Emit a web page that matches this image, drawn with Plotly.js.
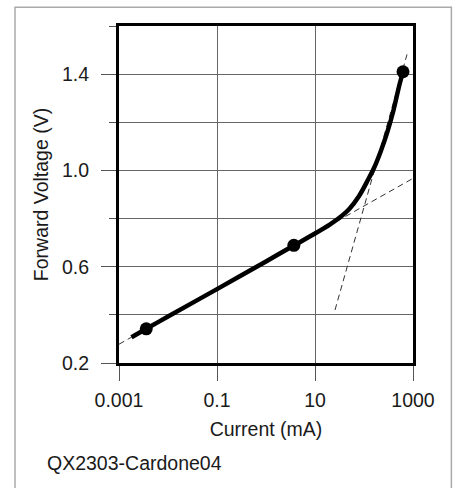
<!DOCTYPE html>
<html>
<head>
<meta charset="utf-8">
<script src="https://cdn.plot.ly/plotly-3.0.1.min.js"></script>
<style>html,body{margin:0;padding:0;background:#fff;}#chart{width:456px;height:488px;}</style>
</head>
<body>
<div id="chart"></div>
<script>
// Measured curve (current in mA, forward voltage in V)
var curveCurrent = [0.0018, 0.0036, 0.01, 0.1, 1, 3.7, 10, 20, 30, 50, 80, 120, 160, 220, 300, 400, 520, 625];
var curveVoltage = [0.307, 0.342, 0.393, 0.507, 0.622, 0.688, 0.738, 0.775, 0.80, 0.84, 0.895, 0.96, 1.01, 1.08, 1.16, 1.25, 1.35, 1.41];
// Marked data points
var pointCurrent = [0.0036, 3.7, 625];
var pointVoltage = [0.342, 0.689, 1.41];
// Low-current asymptote (dashed)
var lowAsymCurrent = [0.001, 1000];
var lowAsymVoltage = [0.278, 0.967];
// High-current asymptote (dashed)
var highAsymCurrent = [25.6, 755];
var highAsymVoltage = [0.42, 1.482];
// Tick labels
var xTickVals = [0.001, 0.1, 10, 1000];
var xTickText = ['0.001', '0.1', '10', '1000'];
var yTickVals = [0.2, 0.6, 1.0, 1.4];
var yTickText = ['0.2', '0.6', '1.0', '1.4'];

var FONT = 'Liberation Sans, Arial, sans-serif';
var TXT = '#1a1a1a';
var FS = 19.5;

var traces = [
  {x: lowAsymCurrent, y: lowAsymVoltage, mode: 'lines', line: {color: '#333', width: 1, dash: '6px,4px'}, hoverinfo: 'skip'},
  {x: highAsymCurrent, y: highAsymVoltage, mode: 'lines', line: {color: '#333', width: 1, dash: '6px,4px'}, hoverinfo: 'skip'},
  {x: curveCurrent, y: curveVoltage, mode: 'lines', line: {color: '#000', width: 4.5, shape: 'spline', smoothing: 0.8}},
  {x: pointCurrent, y: pointVoltage, mode: 'markers', marker: {color: '#000', size: 13}, cliponaxis: false}
];

var layout = {
  width: 456, height: 488,
  margin: {l: 119, r: 43, t: 26, b: 125},
  paper_bgcolor: '#fff', plot_bgcolor: '#fff',
  showlegend: false,
  font: {family: FONT, size: FS, color: TXT},
  xaxis: {
    type: 'log', range: [-3, 3],
    tickmode: 'array', tickvals: xTickVals, ticktext: xTickText,
    ticks: 'outside', ticklen: 15, tickwidth: 1, tickcolor: '#555',
    showgrid: true, gridcolor: '#666', gridwidth: 1,
    showline: true, linecolor: '#000', linewidth: 3, mirror: true,
    zeroline: false,
    ticklabelstandoff: 3,
    tickfont: {family: FONT, size: FS, color: TXT},
    title: {text: 'Current (mA)', font: {family: FONT, size: FS, color: TXT}, standoff: 12}
  },
  yaxis: {
    range: [0.2, 1.6],
    tickmode: 'array', tickvals: yTickVals, ticktext: yTickText,
    ticks: 'outside', ticklen: 15, tickwidth: 1, tickcolor: '#555',
    showgrid: true, gridcolor: '#666', gridwidth: 1,
    minor: {tickmode: 'array', tickvals: [0.4, 0.8, 1.2, 1.6], ticks: 'outside', ticklen: 7, tickcolor: '#555', tickwidth: 1, showgrid: true, gridcolor: '#666', gridwidth: 1},
    showline: true, linecolor: '#000', linewidth: 3, mirror: true,
    zeroline: false,
    ticklabelstandoff: 8,
    tickfont: {family: FONT, size: FS, color: TXT},
    title: {text: 'Forward Voltage (V)', font: {family: FONT, size: FS, color: TXT}, standoff: 9}
  },
  shapes: [
    {type: 'rect', xref: 'paper', yref: 'paper', x0: -0.3537, x1: 1.1306, y0: -0.6, y1: 1.0555,
     line: {color: '#aaa', width: 1.5}, fillcolor: 'rgba(0,0,0,0)', layer: 'below'}
  ],
  annotations: [
    {text: 'QX2303-Cardone04', xref: 'paper', yref: 'paper', x: -0.2527, y: -0.298,
     xanchor: 'left', yanchor: 'middle', showarrow: false, font: {family: FONT, size: FS, color: TXT}}
  ]
};

Plotly.newPlot('chart', traces, layout, {displayModeBar: false, staticPlot: true});
</script>
</body>
</html>
